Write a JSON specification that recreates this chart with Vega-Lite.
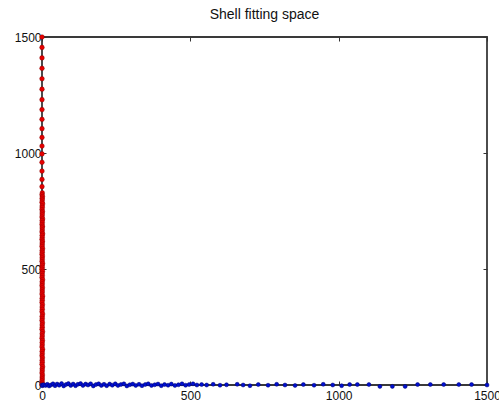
{
  "$schema": "https://vega.github.io/schema/vega-lite/v6.json",
  "width": 445,
  "height": 348,
  "autosize": {"type": "none"},
  "padding": {"left": 42, "top": 37, "right": 12, "bottom": 21},
  "background": "white",
  "title": {
    "text": "Shell fitting space",
    "font": "Liberation Sans",
    "fontSize": 14,
    "fontWeight": "normal",
    "color": "#111",
    "anchor": "middle",
    "offset": 9
  },
  "config": {
    "view": {"stroke": "#3a3a3a", "strokeWidth": 1.8},
    "axis": {
      "domain": false,
      "grid": false,
      "tickSize": -4,
      "tickColor": "#333",
      "tickWidth": 1,
      "format": "d",
      "labelFont": "Liberation Sans",
      "labelFontSize": 12,
      "labelColor": "#111",
      "labelOverlap": false,
      "labelFlush": false,
      "labelBound": false,
      "title": null
    }
  },
  "datasets": {
    "red": [
      {"x": 0, "y": 1500}, {"x": 0, "y": 1455}, {"x": 0, "y": 1410}, {"x": 0, "y": 1365},
      {"x": 0, "y": 1320}, {"x": 0, "y": 1275}, {"x": 0, "y": 1230}, {"x": 0, "y": 1187},
      {"x": 0, "y": 1145}, {"x": 0, "y": 1105}, {"x": 0, "y": 1067}, {"x": 0, "y": 1030},
      {"x": 0, "y": 996}, {"x": 0, "y": 960}, {"x": 0, "y": 922}, {"x": 0, "y": 886},
      {"x": 0, "y": 855}, {"x": 1, "y": 828}, {"x": 0, "y": 820}, {"x": 1.5, "y": 812},
      {"x": 0.5, "y": 805}, {"x": 1, "y": 797}, {"x": 0, "y": 788}, {"x": 2, "y": 781},
      {"x": 0.5, "y": 772}, {"x": 1, "y": 765}, {"x": 0, "y": 756}, {"x": 1.5, "y": 748},
      {"x": 0.5, "y": 741}, {"x": 1, "y": 733}, {"x": 0, "y": 724}, {"x": 2, "y": 716},
      {"x": 0.5, "y": 709}, {"x": 1, "y": 700}, {"x": 0, "y": 692}, {"x": 1.5, "y": 684},
      {"x": 0.5, "y": 677}, {"x": 1, "y": 668}, {"x": 0, "y": 660}, {"x": 2, "y": 652},
      {"x": 0.5, "y": 645}, {"x": 1, "y": 636}, {"x": 0, "y": 628}, {"x": 1.5, "y": 620},
      {"x": 0.5, "y": 612}, {"x": 1, "y": 604}, {"x": 0, "y": 597}, {"x": 2, "y": 588},
      {"x": 0.5, "y": 580}, {"x": 1, "y": 572}, {"x": 0, "y": 564}, {"x": 1.5, "y": 556},
      {"x": 0.5, "y": 548}, {"x": 1, "y": 540}, {"x": 0, "y": 532}, {"x": 2, "y": 524},
      {"x": 0.5, "y": 516}, {"x": 1, "y": 507}, {"x": 0, "y": 499}, {"x": 1.5, "y": 490},
      {"x": 0.5, "y": 481}, {"x": 1, "y": 472}, {"x": 0, "y": 463}, {"x": 2, "y": 454},
      {"x": 0.5, "y": 445}, {"x": 1, "y": 436}, {"x": 0, "y": 428}, {"x": 1.5, "y": 419},
      {"x": 0.5, "y": 410}, {"x": 1, "y": 401}, {"x": 0, "y": 392}, {"x": 2, "y": 383},
      {"x": 0.5, "y": 374}, {"x": 1, "y": 365}, {"x": 0, "y": 356}, {"x": 1.5, "y": 346},
      {"x": 0.5, "y": 336}, {"x": 1, "y": 326}, {"x": 0, "y": 316}, {"x": 2, "y": 306},
      {"x": 0.5, "y": 296}, {"x": 1, "y": 287}, {"x": 0, "y": 278}, {"x": 1.5, "y": 268},
      {"x": 0.5, "y": 259}, {"x": 1, "y": 249}, {"x": 0, "y": 240}, {"x": 2, "y": 230},
      {"x": 0.5, "y": 221}, {"x": 1, "y": 211}, {"x": 0, "y": 202}, {"x": 1.5, "y": 192},
      {"x": 0.5, "y": 183}, {"x": 1, "y": 173}, {"x": 0, "y": 164}, {"x": 2, "y": 154},
      {"x": 0.5, "y": 145}, {"x": 1, "y": 135}, {"x": 0, "y": 126}, {"x": 1.5, "y": 117},
      {"x": 0.5, "y": 107}, {"x": 1, "y": 98}, {"x": 0, "y": 89}, {"x": 2, "y": 79},
      {"x": 0.5, "y": 70}, {"x": 1, "y": 61}, {"x": 0, "y": 52}, {"x": 1.5, "y": 43},
      {"x": 0.5, "y": 34}, {"x": 1, "y": 26}, {"x": 0, "y": 18}, {"x": 1, "y": 10},
      {"x": 0, "y": 4}, {"x": 0, "y": 0}
    ],
    "blue": [
      {"x": 0, "y": 0}, {"x": 2, "y": -3}, {"x": 6, "y": 1}, {"x": 12, "y": -2},
      {"x": 18, "y": 3}, {"x": 24, "y": -4}, {"x": 30, "y": 0}, {"x": 37, "y": 5},
      {"x": 44, "y": -3}, {"x": 51, "y": 4}, {"x": 58, "y": -1}, {"x": 66, "y": 6},
      {"x": 73, "y": -4}, {"x": 81, "y": 2}, {"x": 89, "y": 6}, {"x": 97, "y": -2},
      {"x": 105, "y": 4}, {"x": 113, "y": -3}, {"x": 121, "y": 3}, {"x": 130, "y": 6},
      {"x": 138, "y": -2}, {"x": 147, "y": 4}, {"x": 155, "y": 0}, {"x": 164, "y": 5},
      {"x": 173, "y": -4}, {"x": 182, "y": 2}, {"x": 191, "y": 5}, {"x": 200, "y": -2},
      {"x": 209, "y": 3}, {"x": 218, "y": -3}, {"x": 228, "y": 4}, {"x": 237, "y": -1},
      {"x": 247, "y": 5}, {"x": 256, "y": -2}, {"x": 266, "y": 2}, {"x": 276, "y": 5},
      {"x": 286, "y": -4}, {"x": 296, "y": 1}, {"x": 306, "y": 4}, {"x": 316, "y": -2},
      {"x": 327, "y": 3}, {"x": 337, "y": -3}, {"x": 348, "y": 2}, {"x": 358, "y": 5},
      {"x": 369, "y": -2}, {"x": 380, "y": 1}, {"x": 391, "y": 4}, {"x": 402, "y": -3},
      {"x": 413, "y": 2}, {"x": 425, "y": -1}, {"x": 436, "y": 4}, {"x": 448, "y": -2},
      {"x": 460, "y": 1}, {"x": 472, "y": 5}, {"x": 484, "y": -1}, {"x": 496, "y": 2},
      {"x": 509, "y": 5}, {"x": 522, "y": 0}, {"x": 538, "y": 2}, {"x": 555, "y": 0},
      {"x": 577, "y": 3}, {"x": 600, "y": -1}, {"x": 622, "y": 1}, {"x": 658, "y": 3},
      {"x": 678, "y": 0}, {"x": 701, "y": -3}, {"x": 729, "y": 2}, {"x": 762, "y": -1},
      {"x": 791, "y": 3}, {"x": 819, "y": 0}, {"x": 853, "y": -2}, {"x": 881, "y": 2},
      {"x": 917, "y": -1}, {"x": 948, "y": 3}, {"x": 980, "y": 0}, {"x": 1010, "y": -3},
      {"x": 1037, "y": 2}, {"x": 1063, "y": 2}, {"x": 1102, "y": 2}, {"x": 1139, "y": -6},
      {"x": 1181, "y": -6}, {"x": 1224, "y": -6}, {"x": 1266, "y": 2}, {"x": 1309, "y": 2},
      {"x": 1354, "y": 2}, {"x": 1405, "y": 2}, {"x": 1448, "y": 2}, {"x": 1500, "y": 0}
    ]
  },
  "resolve": {"axis": {"x": "independent", "y": "independent"}},
  "layer": [
    {
      "data": {"name": "red"},
      "mark": {"type": "point", "shape": "circle", "filled": true, "size": 22, "color": "#e80000", "stroke": "#7a0000", "strokeWidth": 0.4, "opacity": 1, "clip": false},
      "encoding": {
        "x": {"field": "x", "type": "quantitative", "scale": {"domain": [0, 1500], "nice": false, "zero": false},
              "axis": {"orient": "bottom", "values": [0, 500, 1000, 1500], "labelPadding": 9}},
        "y": {"field": "y", "type": "quantitative", "scale": {"domain": [0, 1500], "nice": false, "zero": false},
              "axis": {"orient": "left", "values": [0, 500, 1000, 1500], "labelPadding": 5}}
      }
    },
    {
      "data": {"name": "blue"},
      "mark": {"type": "point", "shape": "circle", "filled": true, "size": 16, "color": "#0010d0", "stroke": "#000070", "strokeWidth": 0.5, "opacity": 1, "clip": false},
      "encoding": {
        "x": {"field": "x", "type": "quantitative", "scale": {"domain": [0, 1500], "nice": false, "zero": false},
              "axis": {"orient": "top", "values": [0, 500, 1000, 1500], "labels": false}},
        "y": {"field": "y", "type": "quantitative", "scale": {"domain": [0, 1500], "nice": false, "zero": false},
              "axis": {"orient": "right", "values": [0, 500, 1000, 1500], "labels": false}}
      }
    }
  ]
}
